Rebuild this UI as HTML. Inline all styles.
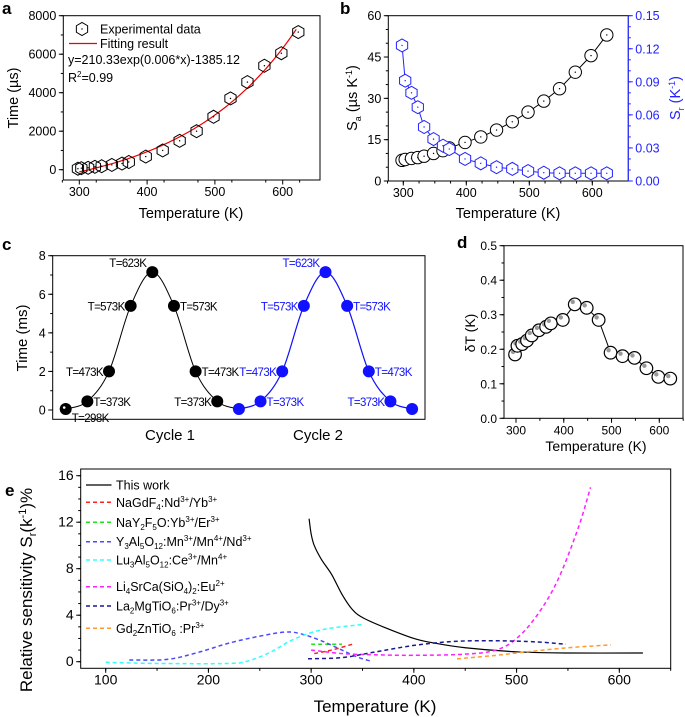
<!DOCTYPE html>
<html><head><meta charset="utf-8"><style>
body{margin:0;background:#fff}
svg{display:block;font-family:"Liberation Sans",Arial,sans-serif}
</style></head><body>
<svg id="fig" width="685" height="717" viewBox="0 0 685 717" xmlns="http://www.w3.org/2000/svg"></svg>
<script>
// ---------- data ----------
const temps = [298,303,313,323,333,348,363,373,398,423,448,473,498,523,548,573,598,623];
const aTime = [50,80,100,150,180,250,320,400,680,1000,1500,2000,2750,3700,4550,5400,6050,7150];
const fitParams = [210.33, 0.006, -1385.12];
const bSa = [7.5,7.8,8.2,8.5,9,10,11,12,14,16,18.5,21.5,25,29,33.5,39.5,45.5,53];
const bSr = [0.123,0.091,0.080,0.067,0.049,0.038,0.032,0.029,0.020,0.016,0.0125,0.011,0.009,0.0075,0.007,0.007,0.007,0.007];
const cTime = [0.05,0.45,2,5.4,7.15,5.4,2,0.45,0.05,0.45,2,5.4,7.15,5.4,2,0.45,0.05];
const cLabels = ["T=298K","T=373K","T=473K","T=573K","T=623K","T=573K","T=473K","T=373K","","T=373K","T=473K","T=573K","T=623K","T=573K","T=473K","T=373K",""];
const dDelta = [0.185,0.21,0.215,0.225,0.24,0.255,0.265,0.275,0.285,0.33,0.32,0.285,0.19,0.18,0.175,0.145,0.12,0.115];
const eThisT = [298,300,303,310,320,330,340,350,370,400,420,450,500,550,623];
const eThisS = [12.3,11,10,8.8,7.5,5.8,4.5,3.8,3.0,2.0,1.6,1.2,0.85,0.75,0.75];
const eRedT = [303,320,340], eRedS = [0.7,1.0,1.5];
const eGreenT = [300,315,330], eGreenS = [1.5,1.5,1.5];
const eBlueT = [123,160,190,220,250,275,290,310,330,345,358], eBlueS = [0.15,0.2,0.8,1.6,2.2,2.55,2.4,1.8,1.0,0.4,0.05];
const eCyanT = [100,150,220,240,260,280,300,320,350], eCyanS = [-0.05,-0.15,-0.15,0.1,0.8,1.8,2.5,2.9,3.2];
const ePinkT = [300,330,360,400,450,480,500,520,540,560,572], ePinkS = [1.0,0.7,0.6,0.55,0.65,1.0,2.0,4.0,7.0,11.5,15];
const eNavyT = [297,330,360,400,440,480,520,548], eNavyS = [0.25,0.35,0.8,1.4,1.75,1.8,1.7,1.5];
const eOrangeT = [442,480,510,550,592], eOrangeS = [0.25,0.55,0.85,1.2,1.45];

const NS="http://www.w3.org/2000/svg";
const svg=document.getElementById('fig');
function mk(tag,attrs,parent,text){const e=document.createElementNS(NS,tag);for(const k in attrs)e.setAttribute(k,attrs[k]);if(text!==undefined)e.textContent=text;(parent||svg).appendChild(e);return e;}
function lin(d0,d1,r0,r1){return v=>r0+(v-d0)/(d1-d0)*(r1-r0);}
function smooth(pts){let d='M'+pts[0][0]+','+pts[0][1];for(let i=0;i<pts.length-1;i++){const p0=pts[i-1]||pts[i],p1=pts[i],p2=pts[i+1],p3=pts[i+2]||p2;d+=' C'+(p1[0]+(p2[0]-p0[0])/6)+','+(p1[1]+(p2[1]-p0[1])/6)+' '+(p2[0]-(p3[0]-p1[0])/6)+','+(p2[1]-(p3[1]-p1[1])/6)+' '+p2[0]+','+p2[1];}return d;}
function hexPath(cx,cy,r){let d='';for(let k=0;k<6;k++){const a=Math.PI/6+k*Math.PI/3;d+=(k?'L':'M')+(cx+r*Math.cos(a)).toFixed(2)+','+(cy+r*Math.sin(a)).toFixed(2);}return d+'Z';}
function box(g,x0,y0,x1,y1){const r=mk('rect',{x:x0,y:y0,width:x1-x0,height:y1-y0,fill:'none',stroke:'#000','stroke-width':1},g);}
function xTicks(g,sx,y,majors,minors,fs,col){minors.forEach(v=>mk('line',{x1:sx(v),x2:sx(v),y1:y,y2:y+2.5,stroke:col||'#000'},g));majors.forEach(v=>{mk('line',{x1:sx(v),x2:sx(v),y1:y,y2:y+4.5,stroke:col||'#000'},g);const t=mk('text',{x:sx(v),y:y+16,'font-size':fs,'text-anchor':'middle'},g,String(v));});}
function yTicks(g,sy,x,majors,minors,fs,labels,col,dir){dir=dir||-1;col=col||'#000';minors.forEach(v=>mk('line',{x1:x,x2:x+dir*2.5,y1:sy(v),y2:sy(v),stroke:col},g));majors.forEach((v,i)=>{mk('line',{x1:x,x2:x+dir*4.5,y1:sy(v),y2:sy(v),stroke:col},g);const t=mk('text',{x:x+dir*7,y:sy(v)+4.5,'font-size':fs,'text-anchor':dir<0?'end':'start',fill:col},g,labels?labels[i]:String(v));});}
function range(a,b,s){const r=[];for(let v=a;v<=b+1e-9;v+=s)r.push(+v.toFixed(6));return r;}
function panelLabel(t,x,y){const e=mk('text',{x:x,y:y,'font-size':17,'font-weight':'bold'},svg,t);}

// ---------- panel a ----------
(function(){
const g=mk('g',{});
const sx=lin(300,600,79.3,282.7), sy=lin(0,8000,169.7,15.7);
box(g,63.3,15.7,320,180);
xTicks(g,sx,180,[300,400,500,600],range(275,650,50),12.5);
yTicks(g,sy,63.3,[0,2000,4000,6000,8000],range(0,8000,1000),12.5);
const fit=[];for(let x=300;x<=620;x+=4)fit.push([sx(x),sy(fitParams[0]*Math.exp(fitParams[1]*x)+fitParams[2])]);
const fl=mk('path',{d:smooth(fit),fill:'none',stroke:'#e00','stroke-width':1.2},g);
temps.forEach((t,i)=>{const m=mk('path',{d:hexPath(sx(t),sy(aTime[i]),6.5),fill:'none',stroke:'#000','stroke-width':1},g);mk('circle',{cx:sx(t),cy:sy(aTime[i]),r:0.7,fill:'#000'},g);});
mk('path',{d:hexPath(82,29,6.5),fill:'none',stroke:'#000'},g);mk('circle',{cx:82,cy:29,r:0.7},g);
let t=mk('text',{x:100,y:33.5,'font-size':12.5},g,'Experimental data');
mk('line',{x1:69,x2:97,y1:43.5,y2:43.5,stroke:'#e00','stroke-width':1.3},g);
t=mk('text',{x:100,y:48,'font-size':12.5},g,'Fitting result');
t=mk('text',{x:68,y:64,'font-size':12.5},g,'y=210.33exp(0.006*x)-1385.12');
t=mk('text',{x:68,y:82,'font-size':12.5},g);
t.innerHTML='R<tspan font-size="8" dy="-5">2</tspan><tspan dy="5">=0.99</tspan>';
t=mk('text',{x:191,y:218,'font-size':14.5,'text-anchor':'middle'},g,'Temperature (K)');
t=mk('text',{x:0,y:0,'font-size':14.5,'text-anchor':'middle',transform:'translate(18,98) rotate(-90)'},g,'Time (µs)');
})();

// ---------- panel b ----------
(function(){
const g=mk('g',{});
const sx=lin(300,600,403.3,592.3), sy=lin(0,60,181,15.7), sy2=lin(0,0.15,181,15.7);
box(g,388.3,15.7,628.3,181);
mk('line',{x1:628.3,x2:628.3,y1:15.7,y2:181,stroke:'#33f','stroke-width':1.2},g);
xTicks(g,sx,181,[300,400,500,600],range(275,625,25),12.5);
yTicks(g,sy,388.3,[0,15,30,45,60],range(0,60,5),12.5);
yTicks(g,sy2,628.3,[0,0.03,0.06,0.09,0.12,0.15],range(0,0.15,0.01),12.5,['0.00','0.03','0.06','0.09','0.12','0.15'],'#22f',1);
const pa=temps.map((t,i)=>[sx(t),sy(bSa[i])]), pr=temps.map((t,i)=>[sx(t),sy2(bSr[i])]);
let l=mk('polyline',{points:pa.join(' '),fill:'none',stroke:'#000'},g);
l=mk('polyline',{points:pr.join(' '),fill:'none',stroke:'#22f'},g);
pa.forEach(p=>{const c=mk('circle',{cx:p[0],cy:p[1],r:6.2,fill:'#fff',stroke:'#000'},g);mk('circle',{cx:p[0],cy:p[1],r:0.7},g);});
pr.forEach(p=>{const c=mk('path',{d:hexPath(p[0],p[1],6.5),fill:'#fff',stroke:'#22f'},g);mk('circle',{cx:p[0],cy:p[1],r:0.7,fill:'#22f'},g);});
let t=mk('text',{x:508,y:218,'font-size':14.5,'text-anchor':'middle'},g,'Temperature (K)');
t=mk('text',{x:0,y:0,'font-size':14.5,'text-anchor':'middle',transform:'translate(357,98) rotate(-90)'},g);
t.innerHTML='S<tspan font-size="9" dy="4">a</tspan><tspan dy="-4"> (µs K</tspan><tspan font-size="9" dy="-5">-1</tspan><tspan dy="5">)</tspan>';
t=mk('text',{x:0,y:0,'font-size':14.5,'text-anchor':'middle',fill:'#22f',transform:'translate(680,98) rotate(-90)'},g);
t.innerHTML='S<tspan font-size="9" dy="4">r</tspan><tspan dy="-4"> (K</tspan><tspan font-size="9" dy="-5">-1</tspan><tspan dy="5">)</tspan>';
})();

// ---------- panel c ----------
(function(){
const g=mk('g',{});
const sx=lin(0,1,65.7,87.35), sy=lin(0,8,410,255.7);
box(g,52.7,255.7,425,419.3);
yTicks(g,sy,52.7,[0,2,4,6,8],range(0,8,1),12.5);
const pts=cTime.map((v,i)=>[sx(i),sy(v)]);
let l=mk('path',{d:smooth(pts.slice(0,9)),fill:'none',stroke:'#000','stroke-width':1},g);
l=mk('path',{d:smooth(pts.slice(8)),fill:'none',stroke:'#11f','stroke-width':1.2},g);
const side=[1,1,-1,-1,-1,1,1,-1,0,1,-1,-1,-1,1,1,-1,0];
pts.forEach((p,i)=>{const col=i<8?'#000':'#11f';const c=mk('circle',{cx:p[0],cy:p[1],r:6,fill:col},g);
 if(cLabels[i]){const peak=cTime[i]>7;const dy=i===0?13:(peak?-5:4.5);const dx=peak?-6:side[i]*6;
  const t=mk('text',{x:p[0]+dx,y:p[1]+dy,'font-size':11.5,'text-anchor':i===0?'start':(side[i]>0?'start':'end'),fill:col,'letter-spacing':'-0.6'},g,cLabels[i]);}});
mk('circle',{cx:pts[0][0]-1.5,cy:pts[0][1]-1.5,r:1.3,fill:'#fff'},g);
let t=mk('text',{x:170,y:440,'font-size':15,'text-anchor':'middle'},g,'Cycle 1');
t=mk('text',{x:318,y:440,'font-size':15,'text-anchor':'middle'},g,'Cycle 2');
t=mk('text',{x:0,y:0,'font-size':15,'text-anchor':'middle',transform:'translate(27,338) rotate(-90)'},g,'Time (ms)');
})();

// ---------- panel d ----------
(function(){
const g=mk('g',{});
const sx=lin(300,600,516,659.3), sy=lin(0,0.5,418.3,245.7);
box(g,504,245.7,683,418.3);
xTicks(g,sx,418.3,[300,400,500,600],range(300,650,50),12);
yTicks(g,sy,504,[0,0.1,0.2,0.3,0.4,0.5],range(0,0.5,0.05),12,['0.0','0.1','0.2','0.3','0.4','0.5']);
const pts=temps.map((t,i)=>[sx(t),sy(dDelta[i])]);
let l=mk('polyline',{points:pts.join(' '),fill:'none',stroke:'#000'},g);
pts.forEach(p=>{const c=mk('circle',{cx:p[0],cy:p[1],r:6.3,fill:'#fff',stroke:'#000','stroke-width':1.2},g);mk('circle',{cx:p[0]-2,cy:p[1]-2.5,r:2.2,fill:'#999'},g);});
let t=mk('text',{x:596,y:451,'font-size':14,'text-anchor':'middle'},g,'Temperature (K)');
t=mk('text',{x:0,y:0,'font-size':14,'text-anchor':'middle',transform:'translate(475,333) rotate(-90)'},g,'δT (K)');
})();

// ---------- panel e ----------
(function(){
const g=mk('g',{});
const sx=lin(100,600,105.7,619.3), sy=lin(0,16,661.7,475.7);
box(g,80.7,469,670.7,668.3);
xTicks(g,sx,668.3,[100,200,300,400,500,600],range(100,650,50),14);
yTicks(g,sy,80.7,[0,4,8,12,16],range(0,16,1),14);
const series=[
 ['this-work',eThisT,eThisS,'#000',''],
 ['nagdf4',eRedT,eRedS,'#ff2020','4,3'],
 ['nay2f5o',eGreenT,eGreenS,'#20e020','4,3'],
 ['y3al5o12',eBlueT,eBlueS,'#4a4aff','4,3'],
 ['lu3al5o12',eCyanT,eCyanS,'#30ffff','4,3'],
 ['li4srca',ePinkT,ePinkS,'#ff20ff','4,3'],
 ['la2mgtio6',eNavyT,eNavyS,'#1a1a90','4,3'],
 ['gd2zntio6',eOrangeT,eOrangeS,'#ff9a30','4,3']];
series.forEach(s=>{const pts=s[1].map((t,i)=>[sx(t),sy(s[2][i])]);const p=mk('path',{d:smooth(pts),fill:'none',stroke:s[3],'stroke-width':s[4]?1.5:1.2,'stroke-dasharray':s[4]||'none'},g);});
const legend=['This work',
 'NaGdF<tspan font-size="8" dy="3">4</tspan><tspan dy="-3">:Nd</tspan><tspan font-size="8" dy="-5">3+</tspan><tspan dy="5">/Yb</tspan><tspan font-size="8" dy="-5">3+</tspan>',
 'NaY<tspan font-size="8" dy="3">2</tspan><tspan dy="-3">F</tspan><tspan font-size="8" dy="3">5</tspan><tspan dy="-3">O:Yb</tspan><tspan font-size="8" dy="-5">3+</tspan><tspan dy="5">/Er</tspan><tspan font-size="8" dy="-5">3+</tspan>',
 'Y<tspan font-size="8" dy="3">3</tspan><tspan dy="-3">Al</tspan><tspan font-size="8" dy="3">5</tspan><tspan dy="-3">O</tspan><tspan font-size="8" dy="3">12</tspan><tspan dy="-3">:Mn</tspan><tspan font-size="8" dy="-5">3+</tspan><tspan dy="5">/Mn</tspan><tspan font-size="8" dy="-5">4+</tspan><tspan dy="5">/Nd</tspan><tspan font-size="8" dy="-5">3+</tspan>',
 'Lu<tspan font-size="8" dy="3">3</tspan><tspan dy="-3">Al</tspan><tspan font-size="8" dy="3">5</tspan><tspan dy="-3">O</tspan><tspan font-size="8" dy="3">12</tspan><tspan dy="-3">:Ce</tspan><tspan font-size="8" dy="-5">3+</tspan><tspan dy="5">/Mn</tspan><tspan font-size="8" dy="-5">4+</tspan>',
 'Li<tspan font-size="8" dy="3">4</tspan><tspan dy="-3">SrCa(SiO</tspan><tspan font-size="8" dy="3">4</tspan><tspan dy="-3">)</tspan><tspan font-size="8" dy="3">2</tspan><tspan dy="-3">:Eu</tspan><tspan font-size="8" dy="-5">2+</tspan>',
 'La<tspan font-size="8" dy="3">2</tspan><tspan dy="-3">MgTiO</tspan><tspan font-size="8" dy="3">6</tspan><tspan dy="-3">:Pr</tspan><tspan font-size="8" dy="-5">3+</tspan><tspan dy="5">/Dy</tspan><tspan font-size="8" dy="-5">3+</tspan>',
 'Gd<tspan font-size="8" dy="3">2</tspan><tspan dy="-3">ZnTiO</tspan><tspan font-size="8" dy="3">6</tspan><tspan dy="-3"> :Pr</tspan><tspan font-size="8" dy="-5">3+</tspan>'];
const ly=[485,502.3,522.3,541.7,560,586.7,606,628.3];
series.forEach((s,i)=>{mk('line',{x1:86,x2:111.5,y1:ly[i],y2:ly[i],stroke:s[3],'stroke-width':s[4]?1.5:1.3,'stroke-dasharray':s[4]||'none'},g);
 const t=mk('text',{x:116,y:ly[i]+4.5,'font-size':12.5},g);t.innerHTML=legend[i];});
let t=mk('text',{x:375,y:712,'font-size':17,'text-anchor':'middle'},g,'Temperature (K)');
t=mk('text',{x:0,y:0,'font-size':17,'text-anchor':'middle',transform:'translate(32,590) rotate(-90)'},g);
t.innerHTML='Relative sensitivity S<tspan font-size="11" dy="4">r</tspan><tspan dy="-4">(k</tspan><tspan font-size="11" dy="-6">-1</tspan><tspan dy="6">)%</tspan>';
})();

panelLabel('a',2,14);panelLabel('b',340,14);panelLabel('c',2,250);panelLabel('d',457,248);panelLabel('e',5,496);
</script>
</body></html>
